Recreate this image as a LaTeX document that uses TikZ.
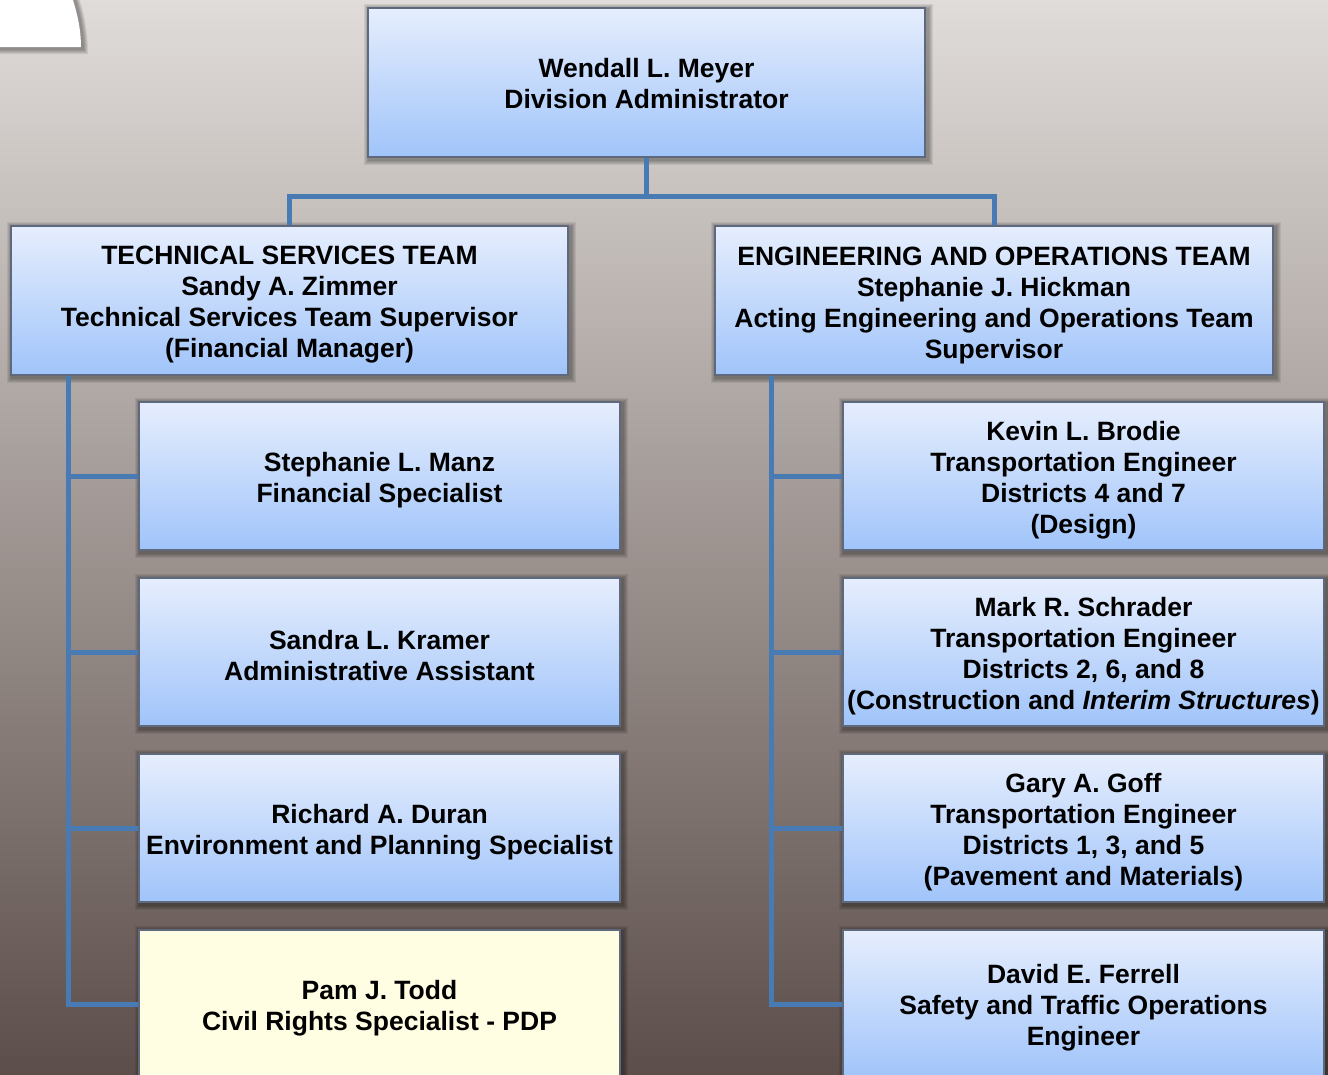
\documentclass[tikz,border=0pt]{standalone}
\usepackage{fontspec}
\setmainfont{Liberation Sans}
\definecolor{bgtop}{RGB}{224,220,217}
\definecolor{bgbot}{RGB}{92,78,74}
\definecolor{boxtop}{RGB}{230,238,253}
\definecolor{boxbot}{RGB}{160,196,250}
\definecolor{boxline}{RGB}{95,105,125}
\definecolor{linkc}{RGB}{72,122,180}
\definecolor{pale}{RGB}{255,253,226}
\pgfdeclarelayer{back}
\pgfdeclarelayer{shad}
\pgfsetlayers{back,shad,main}
\begin{document}
\begin{tikzpicture}[x=1pt,y=-1pt,
  card/.style={draw=boxline, line width=1.3pt, top color=boxtop, bottom color=boxbot, inner sep=0pt},
  wide/.style={minimum width=557pt, minimum height=149pt},
  narrow/.style={minimum width=481pt, minimum height=148pt},
  paper/.style={top color=pale, bottom color=pale},
  lbl/.style={inner sep=0pt, align=center, font=\bfseries\fontsize{26.5}{31}\selectfont},
  link/.style={draw=linkc, line width=5pt, line join=miter}]
\useasboundingbox (0,0) rectangle (1328,1074);
\clip (0,0) rectangle (1328,1074);
\begin{pgfonlayer}{back}
\shade[top color=bgtop, bottom color=bgbot] (0,0) rectangle (1328,1074);
\end{pgfonlayer}
% white tab at top left
\begin{pgfonlayer}{shad}
\foreach \d in {1,...,5}
  \fill[black, opacity=0.08] (-30,-30) -- (64+\d,-30) .. controls (74+\d,-5) and (83+\d,20) .. (83+\d,49+\d) -- (-30,49+\d) -- cycle;
\end{pgfonlayer}
\fill[white] (-30,-30) -- (62,-30) .. controls (72,-5) and (81,20) .. (81,47) -- (-30,47) -- cycle;

% boxes
\node[card, wide] (top) at (646.5,82.5) {};
\node[card, wide] (tsl) at (289.5,300.5) {};
\node[card, wide, minimum width=558pt] (eol) at (994,300.5) {};
\node[card, narrow] (L1) at (379.5,476) {};
\node[card, narrow] (L2) at (379.5,652) {};
\node[card, narrow] (L3) at (379.5,828) {};
\node[card, narrow, paper] (L4) at (379.5,1004) {};
\node[card, narrow] (R1) at (1083.5,476) {};
\node[card, narrow] (R2) at (1083.5,652) {};
\node[card, narrow] (R3) at (1083.5,828) {};
\node[card, narrow] (R4) at (1083.5,1004) {};

% soft shadows
\begin{pgfonlayer}{shad}
\foreach \n in {top,tsl,eol,L1,L2,L3,L4,R1,R2,R3,R4}
  \foreach \d in {1,...,5}
    \fill[black, opacity=0.075] ([shift={(2-\d,2-\d)}]\n.north west) rectangle ([shift={(2+\d,2+\d)}]\n.south east);
\end{pgfonlayer}

% texts
\node[lbl] (topt) at ([yshift=-1pt]top.center) {Wendall L. Meyer\\Division Administrator};
\node[lbl] (tslt) at ([yshift=-4.5pt]tsl.center) {TECHNICAL SERVICES TEAM\\Sandy A. Zimmer\\Technical Services Team Supervisor\\(Financial Manager)};
\node[lbl] (eolt) at ([yshift=-4.5pt]eol.center) {ENGINEERING AND OPERATIONS TEAM\\Stephanie J. Hickman\\Acting Engineering and Operations Team\\Supervisor};
\node[lbl] (L1t) at ([yshift=-4pt]L1.center) {Stephanie L. Manz\\Financial Specialist};
\node[lbl] (L2t) at ([yshift=-4pt]L2.center) {Sandra L. Kramer\\Administrative Assistant};
\node[lbl] (L3t) at ([yshift=-4pt]L3.center) {Richard A. Duran\\Environment and Planning Specialist};
\node[lbl] (L4t) at ([yshift=-4pt]L4.center) {Pam J. Todd\\Civil Rights Specialist - PDP};
\node[lbl] (R1t) at ([yshift=-4pt]R1.center) {Kevin L. Brodie\\Transportation Engineer\\Districts 4 and 7\\(Design)};
\node[lbl] (R2t) at ([yshift=-4pt]R2.center) {Mark R. Schrader\\Transportation Engineer\\Districts 2, 6, and 8\\(Construction and \textit{Interim Structures})};
\node[lbl] (R3t) at ([yshift=-4pt]R3.center) {Gary A. Goff\\Transportation Engineer\\Districts 1, 3, and 5\\(Pavement and Materials)};
\node[lbl] (R4t) at ([yshift=-4pt]R4.center) {David E. Ferrell\\Safety and Traffic Operations\\Engineer};

% connectors
\coordinate (bus) at (646.5,196);
\coordinate (lsp) at (68,0);
\coordinate (rsp) at (771,0);
\path[link] (top.south) -- (top.south |- bus);
\path[link] (tsl.north) |- (bus) -| (eol.north);
\path[link] (lsp |- tsl.south) |- (L4.west);
\path[link] (lsp |- L1.west) -- (L1.west);
\path[link] (lsp |- L2.west) -- (L2.west);
\path[link] (lsp |- L3.west) -- (L3.west);
\path[link] (rsp |- eol.south) |- (R4.west);
\path[link] (rsp |- R1.west) -- (R1.west);
\path[link] (rsp |- R2.west) -- (R2.west);
\path[link] (rsp |- R3.west) -- (R3.west);
\end{tikzpicture}
\end{document}
